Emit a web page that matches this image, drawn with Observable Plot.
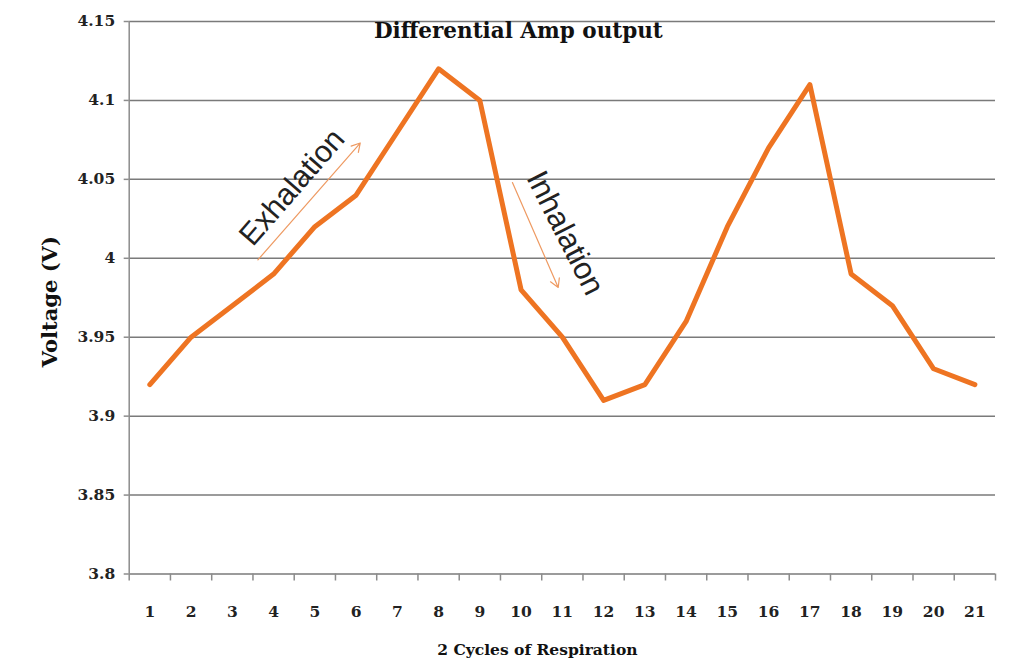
<!DOCTYPE html>
<html><head><meta charset="utf-8">
<script src="https://cdn.jsdelivr.net/npm/d3@7"></script>
<script src="https://cdn.jsdelivr.net/npm/@observablehq/plot@0.6"></script>
<style>body{margin:0;background:#fff}</style>
</head><body><div id="chart"></div>
<script>
const cycles = [1,2,3,4,5,6,7,8,9,10,11,12,13,14,15,16,17,18,19,20,21];
const voltage = [3.92,3.95,3.97,3.99,4.02,4.04,4.08,4.12,4.10,3.98,3.95,3.91,3.92,3.96,4.02,4.07,4.11,3.99,3.97,3.93,3.92];
const yTicks = [3.8,3.85,3.9,3.95,4,4.05,4.1,4.15];
const xBoundaries = [0.5,1.5,2.5,3.5,4.5,5.5,6.5,7.5,8.5,9.5,10.5,11.5,12.5,13.5,14.5,15.5,16.5,17.5,18.5,19.5,20.5,21.5];
const titleText = "Differential Amp output";
const xLabel = "2 Cycles of Respiration";
const yLabel = "Voltage (V)";
const annoLabels = ["Exhalation","Inhalation"];
const annoX = [4.45, 11.07];
const annoY = [4.045, 4.016];
const arrowX1 = [3.62, 9.79];
const arrowY1 = [3.999, 4.048];
const arrowX2 = [6.10, 10.90];
const arrowY2 = [4.073, 3.9815];

const data = cycles.map((c, i) => ({cycle: c, v: voltage[i]}));
const arrows = annoLabels.map((t, i) => ({x1: arrowX1[i], y1: arrowY1[i], x2: arrowX2[i], y2: arrowY2[i]}));

const serif = "DejaVu Serif";
const chart = Plot.plot({
  width: 1013, height: 666,
  marginLeft: 128.7, marginRight: 18, marginTop: 21, marginBottom: 92.5,
  style: {fontFamily: serif, background: "white"},
  x: {type: "linear", domain: [0.5, 21.5]},
  y: {domain: [3.8, 4.15]},
  marks: [
    Plot.gridY(yTicks, {stroke: "#7a7a7a", strokeOpacity: 1, strokeWidth: 1.5}),
    Plot.ruleX([0.5], {stroke: "#8c8c8c", strokeWidth: 1.5}),
    Plot.axisY(yTicks, {tickSize: 5, tickPadding: 9, stroke: "#8c8c8c", strokeWidth: 1.5, fill: "#222", fontSize: 15.5, fontWeight: "bold", tickFormat: d => String(+d.toFixed(2)), label: null}),
    Plot.axisX(xBoundaries, {tickSize: 7, stroke: "#8c8c8c", strokeWidth: 1.5, fill: "none", label: null}),
    Plot.axisX(cycles, {tickSize: 0, tickPadding: 32, fill: "#222", fontSize: 15.5, fontWeight: "bold", label: null}),
    Plot.line(data, {x: "cycle", y: "v", stroke: "#EE7422", strokeWidth: 5}),
    Plot.arrow(arrows, {x1: "x1", y1: "y1", x2: "x2", y2: "y2", stroke: "#EE9A62", strokeWidth: 1.2, headLength: 12, bend: 0}),
    Plot.text([annoLabels[0]], {x: [annoX[0]], y: [annoY[0]], text: d => d, rotate: -49, fontFamily: "Liberation Sans", fontSize: 30.5, fill: "#222"}),
    Plot.text([annoLabels[1]], {x: [annoX[1]], y: [annoY[1]], text: d => d, rotate: 63, fontFamily: "Liberation Sans", fontSize: 31, fill: "#222"}),
    Plot.text([titleText], {frameAnchor: "top", text: d => d, dx: -44, dy: 1, lineAnchor: "top", fontSize: 21.5, fontWeight: "bold", fill: "#111"}),
    Plot.text([xLabel], {frameAnchor: "bottom", text: d => d, dx: -25, dy: 70, lineAnchor: "top", fontSize: 15.5, fontWeight: "bold", fill: "#111"}),
    Plot.text([yLabel], {frameAnchor: "left", text: d => d, dx: -79, dy: 4, rotate: -90, textAnchor: "middle", fontSize: 21, fontWeight: "bold", fill: "#111"})
  ]
});
document.getElementById("chart").appendChild(chart);
</script>
</body></html>
